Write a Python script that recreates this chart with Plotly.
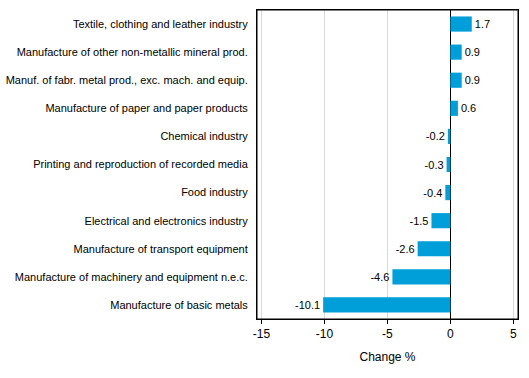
import plotly.graph_objects as go

categories = [
    "Textile, clothing and leather industry",
    "Manufacture of other non-metallic mineral prod.",
    "Manuf. of fabr. metal prod., exc. mach. and equip.",
    "Manufacture of paper and paper products",
    "Chemical industry",
    "Printing and reproduction of recorded media",
    "Food industry",
    "Electrical and electronics industry",
    "Manufacture of transport equipment",
    "Manufacture of machinery and equipment n.e.c.",
    "Manufacture of basic metals",
]
values = [1.7, 0.9, 0.9, 0.6, -0.2, -0.3, -0.4, -1.5, -2.6, -4.6, -10.1]
x_ticks = [-15, -10, -5, 0, 5]

font = "Liberation Sans, Arial, sans-serif"

fig = go.Figure(go.Bar(
    y=categories, x=values, orientation="h",
    marker=dict(color="#009FDA", line=dict(width=0)),
    text=[f"{v:.1f}" for v in values], textposition="outside",
    textfont=dict(family=font, size=11, color="black"),
    cliponaxis=False,
))
fig.update_layout(
    width=529, height=378,
    margin=dict(l=257, r=11, t=10, b=59, autoexpand=False),
    paper_bgcolor="white", plot_bgcolor="white",
    font=dict(family=font, size=11, color="black"),
    bargap=0.46, showlegend=False,
    shapes=[dict(type="rect", xref="paper", yref="paper", x0=0, x1=1, y0=0, y1=1,
                 line=dict(color="black", width=1), fillcolor="rgba(0,0,0,0)", layer="above")],
)
fig.update_xaxes(
    range=[-15.35, 5.37], tickvals=x_ticks, ticktext=[str(t) for t in x_ticks],
    showgrid=True, gridcolor="#d9d9d9", gridwidth=1,
    zeroline=True, zerolinecolor="black", zerolinewidth=1,
    showline=True, linecolor="black", linewidth=1, mirror=True,
    ticks="outside", ticklen=4, tickcolor="black",
    title=dict(text="Change %", font=dict(size=12), standoff=12),
    tickfont=dict(size=12), automargin=False,
)
fig.update_yaxes(
    autorange="reversed", showline=True, linecolor="black", linewidth=1, mirror=True,
    ticks="", ticklabelstandoff=6, showgrid=False, automargin=False,
)
fig.write_html("out.html", config={"displayModeBar": False},
               post_script="document.body.style.margin='0';")
